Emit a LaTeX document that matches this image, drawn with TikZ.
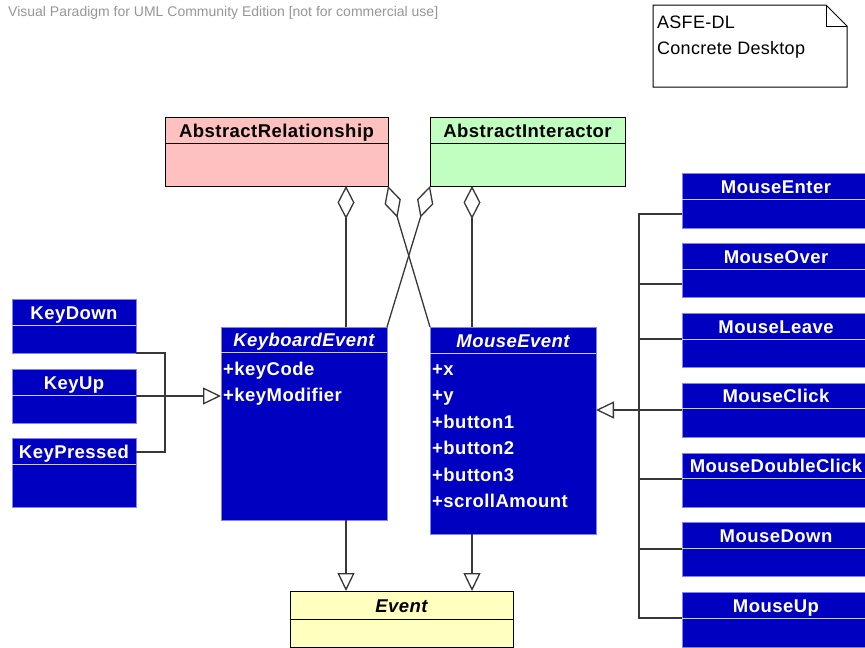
\documentclass[tikz,border=0pt]{standalone}
\usepackage{fontspec}
\setmainfont{Liberation Sans}
\newfontfamily\spacedsans[LetterSpace=2.5]{Liberation Sans}
\newfontfamily\notesans[LetterSpace=1.5]{Liberation Sans}
\usetikzlibrary{arrows.meta,calc}

\definecolor{vpblue}{RGB}{0,0,192}
\definecolor{vpedge}{RGB}{130,130,255}
\definecolor{vpsep}{RGB}{205,205,255}
\definecolor{vppink}{RGB}{255,192,192}
\definecolor{vpgreen}{RGB}{192,255,192}
\definecolor{vpyellow}{RGB}{255,255,192}
\definecolor{vpline}{RGB}{55,55,55}
\definecolor{vpgray}{RGB}{150,150,150}

\newcommand\classfont{\spacedsans\fontsize{18.5}{22}\selectfont\bfseries}

% one UML class box: name, look, x1, y1, x2, y2, y of the compartment line, title
\newcommand\umlclass[8]{%
  \node[#2, minimum width={#5-#3}, minimum height={#6-#4}, anchor=north west] (#1) at (#3,#4) {};
  \draw[#2 sep] (#1.west |- 0,#7) -- (#1.east |- 0,#7);
  \node[#2 title, anchor=base] (#1-title) at ({(#3+#5)/2},{(#4+#7)/2+7}) {#8};
}

\tikzset{
  x=1pt, y=-1pt,
  boxbase/.style={rectangle, line width=1pt, inner sep=0pt, outer sep=0pt},
  blueclass/.style={boxbase, draw=vpedge, fill=vpblue},
  blueclass sep/.style={draw=vpsep, line width=1pt},
  blueclass title/.style={text=white, font=\classfont, inner sep=0pt},
  pinkclass/.style={boxbase, draw=black, fill=vppink},
  pinkclass sep/.style={draw=black, line width=1pt},
  pinkclass title/.style={text=black, font=\classfont, inner sep=0pt},
  greenclass/.style={boxbase, draw=black, fill=vpgreen},
  greenclass sep/.style={draw=black, line width=1pt},
  greenclass title/.style={text=black, font=\classfont, inner sep=0pt},
  yellowclass/.style={boxbase, draw=black, fill=vpyellow},
  yellowclass sep/.style={draw=black, line width=1pt},
  yellowclass title/.style={text=black, font=\classfont, inner sep=0pt},
  attr/.style={text=white, font=\classfont, inner sep=0pt, anchor=base west},
  conn/.style={draw=vpline, line width=1.3pt},
  gen/.style={conn, -{Triangle[length=18pt,width=17pt,fill=white,line width=1.3pt]}},
  agg/.style={conn, {Diamond[length=33pt,width=17pt,fill=white,line width=1.3pt]}-},
  notetext/.style={font=\notesans\fontsize{18}{22}\selectfont, inner sep=0pt, anchor=base west},
}

\begin{document}
\begin{tikzpicture}
\useasboundingbox[fill=white] (0,0) rectangle (865,648);

% header text
\node[font=\fontsize{14}{16}\selectfont, text=vpgray, inner sep=0pt, anchor=base west] (watermark) at (8,16.5)
  {Visual Paradigm for UML Community Edition [not for commercial use]};

% note with folded corner
\draw[line width=1pt, fill=white] (653,5) -- (826,5) -- (847,26) -- (847,87) -- (653,87) -- cycle;
\draw[line width=1pt] (826,5) -- (826,26) -- (847,26);
\node[notetext] (note1) at (657,28) {ASFE-DL};
\node[notetext] (note2) at (657,54) {Concrete Desktop};

% classes
\umlclass{ar}{pinkclass}{165}{117}{388}{186}{143}{AbstractRelationship}
\umlclass{ai}{greenclass}{430}{117}{625}{186}{143}{AbstractInteractor}
\umlclass{ke}{blueclass}{221}{327}{387}{520}{352}{\itshape KeyboardEvent}
\umlclass{me}{blueclass}{430}{327}{596}{534}{353}{\itshape MouseEvent}
\umlclass{ev}{yellowclass}{290}{591}{513}{647}{619}{\itshape Event}

\umlclass{kdown}{blueclass}{12}{299}{136}{353}{325}{KeyDown}
\umlclass{kup}{blueclass}{12}{369}{136}{423}{395}{KeyUp}
\umlclass{kpress}{blueclass}{12}{438}{136}{507}{464}{KeyPressed}

\umlclass{menter}{blueclass}{682}{173}{870}{228}{199}{MouseEnter}
\umlclass{mover}{blueclass}{682}{243}{870}{297}{269}{MouseOver}
\umlclass{mleave}{blueclass}{682}{313}{870}{367}{339}{MouseLeave}
\umlclass{mclick}{blueclass}{682}{383}{870}{437}{408}{MouseClick}
\umlclass{mdouble}{blueclass}{682}{453}{870}{507}{478}{MouseDoubleClick}
\umlclass{mdown}{blueclass}{682}{522}{870}{576}{548}{MouseDown}
\umlclass{mup}{blueclass}{682}{592}{870}{647}{618}{MouseUp}

% attributes
\node[attr] (ke-a1) at (223,375) {+keyCode};
\node[attr] (ke-a2) at (223,401.5) {+keyModifier};
\node[attr] (me-a1) at (432,375) {+x};
\node[attr] (me-a2) at (432,401.5) {+y};
\node[attr] (me-a3) at (432,428) {+button1};
\node[attr] (me-a4) at (432,454.5) {+button2};
\node[attr] (me-a5) at (432,481) {+button3};
\node[attr] (me-a6) at (432,507.5) {+scrollAmount};

% routing points
\coordinate (kx) at (346,0);
\coordinate (mx) at (472,0);
\coordinate (kjoin) at (165,396);
\coordinate (mjoin) at (639,410);

% aggregations
\draw[agg] (ar.south -| kx) -- (ke.north -| kx);
\draw[agg] (ar.south east) -- (me.north west);
\draw[agg] (ai.south west) -- (ke.north east);
\draw[agg] (ai.south -| mx) -- (me.north -| mx);

% generalizations to Event
\draw[gen] (ke.south -| kx) -- (ev.north -| kx);
\draw[gen] (me.south -| mx) -- (ev.north -| mx);

% keyboard subclasses
\draw[conn] (kdown.south east) -| (kjoin) |- ([yshift=-14pt]kpress.north east);
\draw[gen] (kup.east) -- (ke.west |- kup.east);

% mouse subclasses
\draw[conn] ([yshift=-41pt]menter.north west) -| (mjoin);
\draw[conn] ([yshift=-41pt]mover.north west) -| (mjoin);
\draw[conn] ([yshift=-26pt]mleave.north west) -| (mjoin);
\draw[conn] ([yshift=-26pt]mdouble.north west) -| (mjoin);
\draw[conn] ([yshift=-27pt]mdown.north west) -| (mjoin);
\draw[conn] ([yshift=-26pt]mup.north west) -| (mjoin);
\draw[gen] ([yshift=-27pt]mclick.north west) -- (me.east |- mjoin);
\end{tikzpicture}
\end{document}
